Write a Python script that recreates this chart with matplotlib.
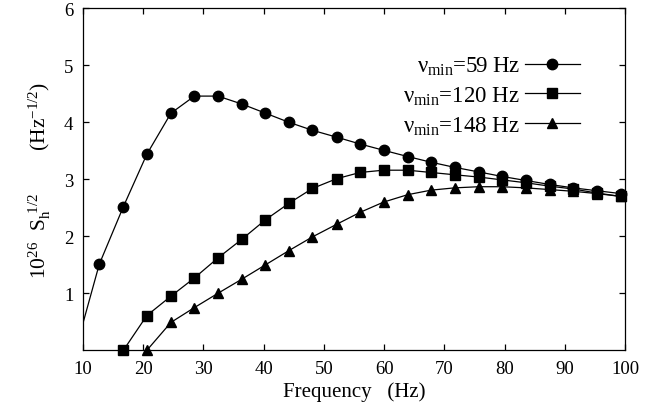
import matplotlib
matplotlib.use("Agg")
import matplotlib.pyplot as plt

# data (frequency in Hz, 10^26 S_h^1/2 in Hz^-1/2)
freq = [12.7, 16.7, 20.6, 24.6, 28.5, 32.4, 36.4, 40.3, 44.2, 48.1, 52.1, 56.0,
        59.9, 63.9, 67.8, 71.7, 75.7, 79.6, 83.5, 87.5, 91.4, 95.3, 99.3]

# nu_min = 59 Hz (line starts below the left edge at ~8.8 Hz)
lead_f59 = 8.8
lead_s59 = 0.02
s59 = [1.51, 2.52, 3.44, 4.16, 4.46, 4.46, 4.32, 4.16, 4.00, 3.86, 3.74, 3.62,
       3.51, 3.40, 3.30, 3.21, 3.13, 3.05, 2.98, 2.91, 2.85, 2.80, 2.75]

# nu_min = 120 Hz
s120 = [0.0, 0.61, 0.95, 1.27, 1.62, 1.95, 2.29, 2.58, 2.84, 3.01, 3.12,
        3.16, 3.16, 3.12, 3.08, 3.04, 2.99, 2.94, 2.88, 2.83, 2.76, 2.70]

# nu_min = 148 Hz
s148 = [0.0, 0.49, 0.75, 1.00, 1.25, 1.50, 1.75, 1.99, 2.21, 2.42, 2.60,
        2.73, 2.81, 2.85, 2.87, 2.87, 2.85, 2.82, 2.79, 2.75, 2.70]

labels = [r'$\nu_{\rm min}$=59 Hz', r'$\nu_{\rm min}$=120 Hz', r'$\nu_{\rm min}$=148 Hz']
xticks = [10, 20, 30, 40, 50, 60, 70, 80, 90, 100]
yticks = [1, 2, 3, 4, 5, 6]

plt.rcParams['font.family'] = ['Liberation Serif', 'DejaVu Serif']
plt.rcParams['mathtext.fontset'] = 'custom'
plt.rcParams['mathtext.rm'] = 'Liberation Serif'
plt.rcParams['mathtext.it'] = 'Liberation Serif'
plt.rcParams['mathtext.bf'] = 'Liberation Serif:bold'

fig = plt.figure(figsize=(6.61, 4.14), dpi=100)
ax = fig.add_axes([0.1256, 0.1514, 0.8199, 0.8261])

# line for 59 Hz including the clipped lead-in point
ax.plot([lead_f59] + freq, [lead_s59] + s59, color='black', lw=0.9)
ax.plot(freq, s59, ls='none', marker='o', ms=7.5, color='black', clip_on=False)
ax.plot(freq[1:], s120, color='black', lw=0.9, marker='s', ms=7, clip_on=False)
ax.plot(freq[2:], s148, color='black', lw=0.9, marker='^', ms=6.5, clip_on=False)

# legend handles (text on the left, marker on the right)
h1, = ax.plot([], [], color='black', lw=0.9, marker='o', ms=7.5)
h2, = ax.plot([], [], color='black', lw=0.9, marker='s', ms=7)
h3, = ax.plot([], [], color='black', lw=0.9, marker='^', ms=6.5)
ax.legend([h1, h2, h3], labels, loc='upper right', bbox_to_anchor=(0.925, 0.878),
          frameon=False, markerfirst=False, fontsize=16.5, handlelength=2.4,
          handletextpad=0.2, labelspacing=0.33, borderpad=0.2,
          borderaxespad=0.0)

ax.set_xlim(10, 100)
ax.set_ylim(0, 6)
ax.set_xticks(xticks)
ax.set_yticks(yticks)
ax.tick_params(direction='in', top=True, right=True, length=4.5, width=0.9,
               labelsize=13.5)
ax.tick_params(axis='x', pad=7)
ax.tick_params(axis='y', pad=7)
for sp in ax.spines.values():
    sp.set_linewidth(0.9)

ax.set_xlabel('Frequency   (Hz)', fontsize=15, labelpad=3)
ax.set_ylabel(r'$10^{26}\ \ S_{\rm h}^{\ 1/2}$        (Hz$^{-1/2}$)', fontsize=15.5,
              labelpad=8)

fig.savefig('out.png', dpi=100)
